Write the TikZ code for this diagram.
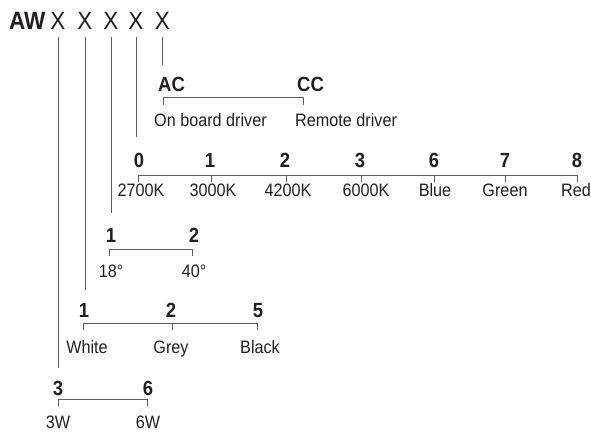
\documentclass[tikz,border=0pt]{standalone}
\usepackage{fontspec}
\setmainfont[FakeStretch=0.9]{Liberation Sans}
\usepackage{tikz}
\usetikzlibrary{positioning}
\definecolor{ink}{HTML}{231F20}
\definecolor{rulegrey}{HTML}{5C5C5C}
\tikzset{
	every node/.style = {inner sep = 0, text=ink},
	code/.style = {font=\fontsize{25}{25}\selectfont, anchor=base, outer ysep=7pt},
	head/.style = {font=\fontsize{20.5}{20.5}\selectfont\bfseries, anchor=base},
	opt/.style = {font=\fontsize{18}{18}\selectfont, anchor=base},
	stem/.style = {draw=rulegrey, line width=0.9pt}
}

\begin{document}
\begin{tikzpicture}[x=1pt, y=-1pt]
		\useasboundingbox (0,0) rectangle (591,433);
		% product code
		\node[code, anchor=base west, font=\fontsize{25}{25}\selectfont\bfseries] (aw) at (9,30) {AW};
		\node[code] (x1) at (58,30) {X};
		\node[code] (x2) at (85,30) {X};
		\node[code] (x3) at (111,30) {X};
		\node[code] (x4) at (136,30) {X};
		\node[code] (x5) at (162.5,30) {X};
		
		\coordinate (s1) at (58,368);
		\coordinate (s2) at (85,290);
		\coordinate (s3) at (111,213);
		\coordinate (s4) at (136,137);
		\coordinate (s5) at (162.5,65);
		\path[stem] (x1) -- (s1) (x2) -- (s2) (x3) -- (s3) (x4) -- (s4) (x5) -- (s5);
		
		% driver
		\coordinate (ac) at (163,97);
		\coordinate (cc) at (303,97);
		\path[stem] (ac) -- (cc) (ac) -- ++(0,8) (cc) -- ++(0,8);
		\node[head, anchor=base west] (hac) at (158,92) {AC};
		\node[head, anchor=base west] (hcc) at (297,92) {CC};
		\node[opt, anchor=base west] (onboard) at (154,126) {On board driver};
		\node[opt, anchor=base west] (remote) at (295,126) {Remote driver};
		
		% colour temperature
		\coordinate (c0) at (138,175);
		\coordinate (c1) at (211,175);
		\coordinate (c2) at (286,175);
		\coordinate (c3) at (361,175);
		\coordinate (c6) at (434,175);
		\coordinate (c7) at (505,175);
		\coordinate (c8) at (577,175);
		\path[stem] (c0) -- (c8);
		\path[stem] (c0) -- ++(0,7) (c1) -- ++(0,7) (c2) -- ++(0,7) (c3) -- ++(0,7)
			(c6) -- ++(0,7) (c7) -- ++(0,7) (c8) -- ++(0,7);
		\node[head] (hc0) at (139,167) {0};
		\node[head] (hc1) at (210,167) {1};
		\node[head] (hc2) at (285,167) {2};
		\node[head] (hc3) at (360,167) {3};
		\node[head] (hc6) at (434,167) {6};
		\node[head] (hc7) at (505,167) {7};
		\node[head] (hc8) at (577,167) {8};
		\node[opt] (k2700) at (141,196) {2700K};
		\node[opt] (k3000) at (213,196) {3000K};
		\node[opt] (k4200) at (288,196) {4200K};
		\node[opt] (k6000) at (366,196) {6000K};
		\node[opt] (blue) at (435,196) {Blue};
		\node[opt] (green) at (505,196) {Green};
		\node[opt, anchor=base east] (red) at (591,196) {Red};
		
		% beam angle
		\coordinate (b1) at (109,249);
		\coordinate (b2) at (192,249);
		\path[stem] (b1) -- (b2) (b1) -- ++(0,7) (b2) -- ++(0,7);
		\node[head] (hb1) at (111,242) {1};
		\node[head] (hb2) at (194,242) {2};
		\node[opt] (deg18) at (111,277) {18°};
		\node[opt] (deg40) at (194,277) {40°};
		
		% finish
		\coordinate (f1) at (83,323);
		\coordinate (f2) at (172,323);
		\coordinate (f5) at (257,323);
		\path[stem] (f1) -- (f5) (f1) -- ++(0,7) (f2) -- ++(0,7) (f5) -- ++(0,7);
		\node[head] (hf1) at (84,317) {1};
		\node[head] (hf2) at (171,317) {2};
		\node[head] (hf5) at (258,317) {5};
		\node[opt] (white) at (87,353) {White};
		\node[opt] (grey) at (171,353) {Grey};
		\node[opt] (black) at (260,353) {Black};
		
		% power
		\coordinate (p3) at (58,399);
		\coordinate (p6) at (147,399);
		\path[stem] (p3) -- (p6) (p3) -- ++(0,7) (p6) -- ++(0,7);
		\node[head] (hp3) at (58,395) {3};
		\node[head] (hp6) at (148,395) {6};
		\node[opt] (w3) at (58,428) {3W};
		\node[opt] (w6) at (148,428) {6W};
\end{tikzpicture}
\end{document}
